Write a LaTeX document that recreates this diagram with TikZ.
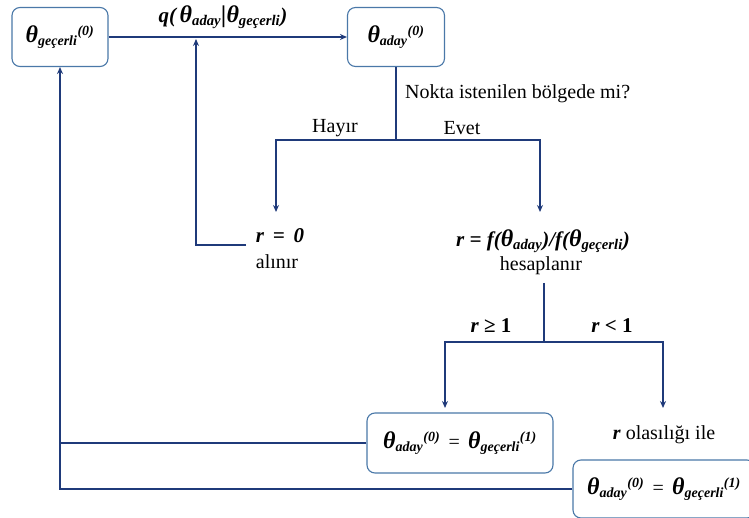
\documentclass[tikz,border=0pt]{standalone}
\usepackage{fontspec}
\setmainfont{Liberation Serif}
\usetikzlibrary{arrows.meta}
\definecolor{hatrenk}{HTML}{1F3A7A}
\definecolor{kuturenk}{HTML}{4A78A8}
\newcommand{\bi}[1]{\textbf{\textit{#1}}}
\newcommand{\bth}{{\fontsize{24}{24}\selectfont θ}}
\newcommand{\thgec}[1]{\bi{\bth\textsubscript{geçerli}\textsuperscript{(#1)}}}
\newcommand{\thad}[1]{\bi{\bth\textsubscript{aday}\textsuperscript{(#1)}}}

\begin{document}
\begin{tikzpicture}[x=1pt,y=-1pt,
		kutu/.style={draw=kuturenk, line width=1.1pt, rounded corners=8pt, font=\fontsize{20}{24}\selectfont},
		hat/.style={draw=hatrenk, line width=1.3pt},
		ok/.style={hat, -{Stealth[length=7pt,width=6pt]}},
		yazi/.style={font=\fontsize{20}{23}\selectfont, inner sep=0pt},
		formul/.style={font=\fontsize{21}{24}\selectfont, inner sep=0pt}]
			\useasboundingbox (0,0) rectangle (749,518);
			
			% kutular
			\node[kutu, minimum width=96pt, minimum height=59pt] (gec0) at (60,37) {\thgec{0}};
			\node[kutu, minimum width=97pt, minimum height=59pt] (aday0) at (396,37) {\thad{0}};
			\node[kutu, minimum width=186pt, minimum height=60pt] (kabul) at (460,443) {\thad{0} \,=\, \thgec{1}};
			\node[kutu, minimum width=182pt, minimum height=58pt] (olas) at (664,489) {\thad{0} \,=\, \thgec{1}};
			
			% yazilar
			\node[formul] (q) at (223,17) {\bi{q(\,\bth\textsubscript{aday}{\fontsize{24}{24}\selectfont|}\bth\textsubscript{geçerli})}};
			\node[yazi, anchor=west] (soru) at (405,94) {Nokta istenilen bölgede mi?};
			\node[yazi] (hayir) at (335,128) {Hayır};
			\node[yazi] (evet) at (462,128) {Evet};
			\node[formul] (r0) at (280,236) {\bi{r \,=\, 0}};
			\node[yazi] (alinir) at (277,262) {alınır};
			\node[formul] (roran) at (543,241) {\bi{r = f(\bth\textsubscript{aday})/f(\bth\textsubscript{geçerli})}};
			\node[yazi] (hesap) at (541,266) {hesaplanır};
			\node[formul] (rbuyuk) at (491,326) {\bi{r} \textbf{≥ 1}};
			\node[formul] (rkucuk) at (612,326) {\bi{r} \textbf{< 1}};
			\node[yazi] (ile) at (664,435) {\bi{r} olasılığı ile};
			
			% noktalar
			\coordinate (d1) at (396,140);
			\coordinate (h1) at (276,212);
			\coordinate (e1) at (540,212);
			\coordinate (q1) at (196,39);
			\coordinate (r0x) at (246,245);
			\coordinate (d2u) at (544,283);
			\coordinate (d2) at (544,342);
			\coordinate (b1) at (445,408);
			\coordinate (k1) at (663,408);
			\coordinate (geri) at (61,443);
			
			% baglantilar
			\draw[ok] (gec0) -- (aday0);
			\draw[hat] (aday0.south) -- (d1);
			\draw[ok] (d1) -| (h1);
			\draw[ok] (d1) -| (e1);
			\draw[ok] (r0x) -| (q1);
			\draw[hat] (d2u) -- (d2);
			\draw[ok] (d2) -| (b1);
			\draw[ok] (d2) -| (k1);
			\draw[hat] (kabul.west) -- (geri);
			\draw[ok] (olas.west) -| (gec0.south);
		\end{tikzpicture}
\end{document}
